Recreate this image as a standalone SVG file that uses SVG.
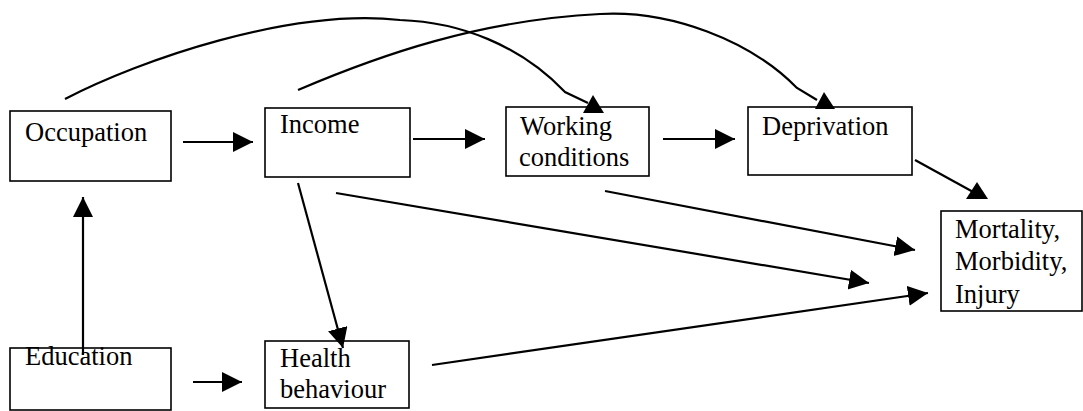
<svg xmlns="http://www.w3.org/2000/svg" width="1083" height="411" viewBox="0 0 1083 411">
  <style>
    .box { fill: #fff; stroke: #000; stroke-width: 1.6; }
    .edge { fill: none; stroke: #000; stroke-width: 2.2; }
    .head { fill: #000; stroke: none; }
  </style>
  <defs>
    <marker id="arrow" markerUnits="userSpaceOnUse" markerWidth="22" markerHeight="22" refX="20" refY="10" orient="auto">
      <path d="M0,0 L20,10 L0,20 Z" fill="#000"/>
    </marker>
  </defs>

  <rect width="1083" height="411" fill="#fff"/>

  <!-- nodes -->
  <g id="occupation">
    <rect class="box" x="10" y="111" width="161" height="70"/>
    <text x="25" y="141" font-family="Liberation Serif" font-size="26.5">Occupation</text>
  </g>
  <g id="income">
    <rect class="box" x="265" y="108" width="145" height="69"/>
    <text x="280" y="133" font-family="Liberation Serif" font-size="26.5">Income</text>
  </g>
  <g id="working-conditions">
    <rect class="box" x="506" y="107" width="143" height="69"/>
    <text x="520" y="135" font-family="Liberation Serif" font-size="26.5">Working</text>
    <text x="519" y="166" font-family="Liberation Serif" font-size="26.5">conditions</text>
  </g>
  <g id="deprivation">
    <rect class="box" x="748" y="107" width="164" height="68"/>
    <text x="762" y="135" font-family="Liberation Serif" font-size="26.5">Deprivation</text>
  </g>
  <g id="mortality">
    <rect class="box" x="941" y="211" width="141" height="100"/>
    <text x="955" y="238" font-family="Liberation Serif" font-size="26.5">Mortality,</text>
    <text x="955" y="270" font-family="Liberation Serif" font-size="26.5">Morbidity,</text>
    <text x="955" y="303" font-family="Liberation Serif" font-size="26.5">Injury</text>
  </g>
  <g id="education">
    <rect class="box" x="10" y="348" width="161" height="62"/>
    <text x="25" y="365" font-family="Liberation Serif" font-size="26.5">Education</text>
  </g>
  <g id="health-behaviour">
    <rect class="box" x="265" y="341" width="144" height="67"/>
    <text x="280" y="367" font-family="Liberation Serif" font-size="26.5">Health</text>
    <text x="280" y="398" font-family="Liberation Serif" font-size="26.5">behaviour</text>
  </g>

  <!-- connectors -->
  <g id="connectors">
    <line class="edge" x1="183" y1="142" x2="253" y2="142" marker-end="url(#arrow)"/>
    <line class="edge" x1="413" y1="139" x2="485" y2="139" marker-end="url(#arrow)"/>
    <line class="edge" x1="663" y1="139" x2="735" y2="139" marker-end="url(#arrow)"/>
    <line class="edge" x1="83" y1="355" x2="83" y2="197" marker-end="url(#arrow)"/>
    <line class="edge" x1="193" y1="382" x2="242" y2="382" marker-end="url(#arrow)"/>
    <line class="edge" x1="298" y1="183" x2="343" y2="348" marker-end="url(#arrow)"/>
    <line class="edge" x1="336" y1="193" x2="869" y2="283" marker-end="url(#arrow)"/>
    <line class="edge" x1="605" y1="191" x2="915" y2="250" marker-end="url(#arrow)"/>
    <line class="edge" x1="432" y1="365" x2="928" y2="293" marker-end="url(#arrow)"/>

    <!-- deprivation to outcomes -->
    <line class="edge" x1="915" y1="160" x2="975" y2="193"/>
    <polygon class="head" points="977,182 988,199 966,199"/>

    <!-- occupation arc to working conditions -->
    <path class="edge" d="M65,99 C140,60 290,8 400,20 C460,22 520,45 565,92 L588,103"/>
    <polygon class="head" points="593,95 604,113 583,113"/>

    <!-- income arc to deprivation -->
    <path class="edge" d="M298,90 C380,55 480,20 600,14 C670,10 750,40 797,88 L817,100"/>
    <polygon class="head" points="824,92 835,109 815,109"/>
  </g>
</svg>
